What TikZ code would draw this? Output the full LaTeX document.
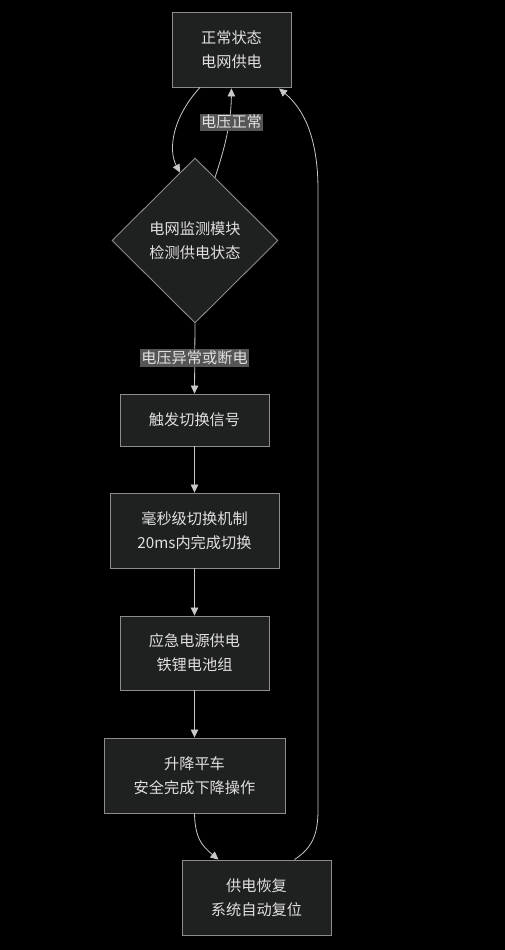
\documentclass[tikz,border=0pt]{standalone}
\usepackage{fontspec}
\setmainfont{Noto Sans CJK SC}
\usetikzlibrary{shapes.geometric,arrows.meta,calc}
\definecolor{bgc}{HTML}{000000}
\definecolor{nodefill}{HTML}{1F2020}
\definecolor{nodeline}{HTML}{8C8C8C}
\definecolor{txt}{HTML}{E0E0E0}
\definecolor{lblfill}{HTML}{555555}
\definecolor{edgec}{HTML}{C8C8C8}
\begin{document}
\begin{tikzpicture}[x=1pt,y=-1pt,
  box/.style={draw=nodeline,fill=nodefill,line width=0.9pt,text=txt,align=center,inner sep=0pt,font=\fontsize{15.2}{24}\selectfont},
  dia/.style={diamond,draw=nodeline,fill=nodefill,line width=0.9pt,text=txt,align=center,inner sep=0pt,font=\fontsize{15.2}{24}\selectfont},
  lbl/.style={fill=lblfill,text=txt,inner sep=1.5pt,font=\fontsize{15.2}{18}\selectfont},
  edge/.style={draw=edgec,line width=0.8pt,-{Triangle[length=8pt,width=7.5pt]}},
  plain/.style={draw=edgec,line width=0.8pt}]
\fill[bgc] (0,0) rectangle (505,950);
\useasboundingbox (0,0) rectangle (505,950);

\node[box,minimum width=119pt,minimum height=75pt] (n1) at (231.5,49.5) {正常状态\\电网供电};
\node[dia,minimum width=166pt,minimum height=165pt] (d) at (195,240.5) {电网监测模块\\检测供电状态};
\node[box,minimum width=149pt,minimum height=52pt] (n3) at (194.5,420) {触发切换信号};
\node[box,minimum width=169pt,minimum height=75pt] (n4) at (194.5,530.5) {毫秒级切换机制\\20ms内完成切换};
\node[box,minimum width=149pt,minimum height=74pt] (n5) at (194.5,653) {应急电源供电\\铁锂电池组};
\node[box,minimum width=181pt,minimum height=75pt] (n6) at (194.5,775.5) {升降平车\\安全完成下降操作};
\node[box,minimum width=149pt,minimum height=75pt] (n7) at (256.5,897.5) {供电恢复\\系统自动复位};

\coordinate (dul) at ($(d.north)!0.18!(d.west)$);
\coordinate (dur) at ($(d.north)!0.24!(d.east)$);

% n1 -> diamond
\draw[edge] ($(n1.south)+(-31.5,0)$) .. controls (172,118) and (168,150) .. (dul);
% diamond -> n1 (voltage normal)
\draw[edge] (dur) .. controls (224,150) and (231,125) .. ($(n1.south)+(0,1)$);
\node[lbl] (l1) at (231.5,122) {电压正常};

% diamond -> n3
\draw[edge] (d.south) -- (n3.north);
\node[lbl] (l2) at (194.5,358) {电压异常或断电};

\draw[edge] (n3.south) -- (n4.north);
\draw[edge] (n4.south) -- (n5.north);
\draw[edge] (n5.south) -- (n6.north);

% n6 -> n7
\draw[edge] (n6.south) .. controls (195,838) and (202,846) .. ($(n7.north)+(-38,0)$);

% n7 -> n1
\draw[edge] ($(n7.north)+(38,0)$) .. controls (312,848) and (318,835) .. (318,810)
  -- (318,190) .. controls (318,140) and (305,110) .. ($(n1.south)+(47.5,1)$);
\end{tikzpicture}
\end{document}
